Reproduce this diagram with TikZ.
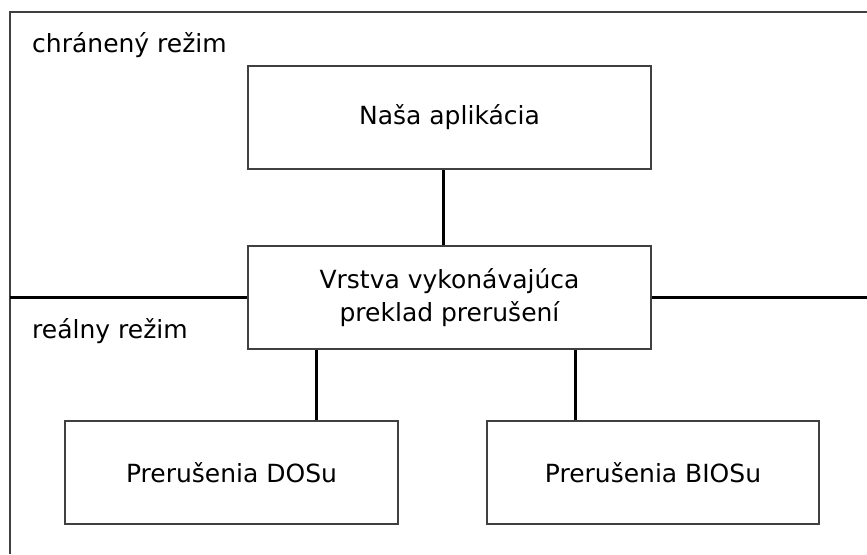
\documentclass[tikz,border=0pt]{standalone}
\usepackage{fontspec}
\setmainfont{DejaVu Sans}
\usepackage{tikz}

\begin{document}
\begin{tikzpicture}[x=1pt,y=-1pt,
		layer/.style={draw=black!75,line width=2pt,inner sep=0pt,minimum height=103pt,align=center,font=\fontsize{25}{33}\selectfont},
		wire/.style={line width=3pt},
		modelabel/.style={anchor=west,inner sep=0pt,font=\fontsize{25}{30}\selectfont}]
		\useasboundingbox (0,0) rectangle (867,554);
		% frame of the two modes
		\coordinate (fbot) at (10,554);
		\coordinate (ftop) at (10,12);
		\coordinate (fright) at (867,12);
		\draw [draw=black!75,line width=2pt] (fbot) -- (ftop) -- (fright);
		\node [modelabel] (pm) at (32,45) {chránený režim};
		\node [modelabel] (rm) at (32,331) {reálny režim};
		% layers
		\node [layer,minimum width=403pt] (app) at (449.5,117.5) {Naša aplikácia};
		\node [layer,minimum width=403pt] (mid) at (449.5,297.5) {Vrstva vykonávajúca\\preklad prerušení};
		\node [layer,minimum width=333pt] (dos) at (231.5,472.5) {Prerušenia DOSu};
		\node [layer,minimum width=332pt] (bios) at (653,472.5) {Prerušenia BIOSu};
		% border between modes
		\coordinate (lend) at (10,297.5);
		\coordinate (rend) at (867,297.5);
		\draw [wire] (lend) -- (mid.west);
		\draw [wire] (mid.east) -- (rend);
		% connections
		\draw [wire] ([xshift=-6.5pt]app.south) -- ([xshift=-6.5pt]mid.north);
		\draw [wire] ([xshift=84.5pt]dos.north) -- ([xshift=84.5pt]dos.north |- mid.south);
		\draw [wire] ([xshift=-78pt]bios.north) -- ([xshift=-78pt]bios.north |- mid.south);
\end{tikzpicture}
\end{document}
